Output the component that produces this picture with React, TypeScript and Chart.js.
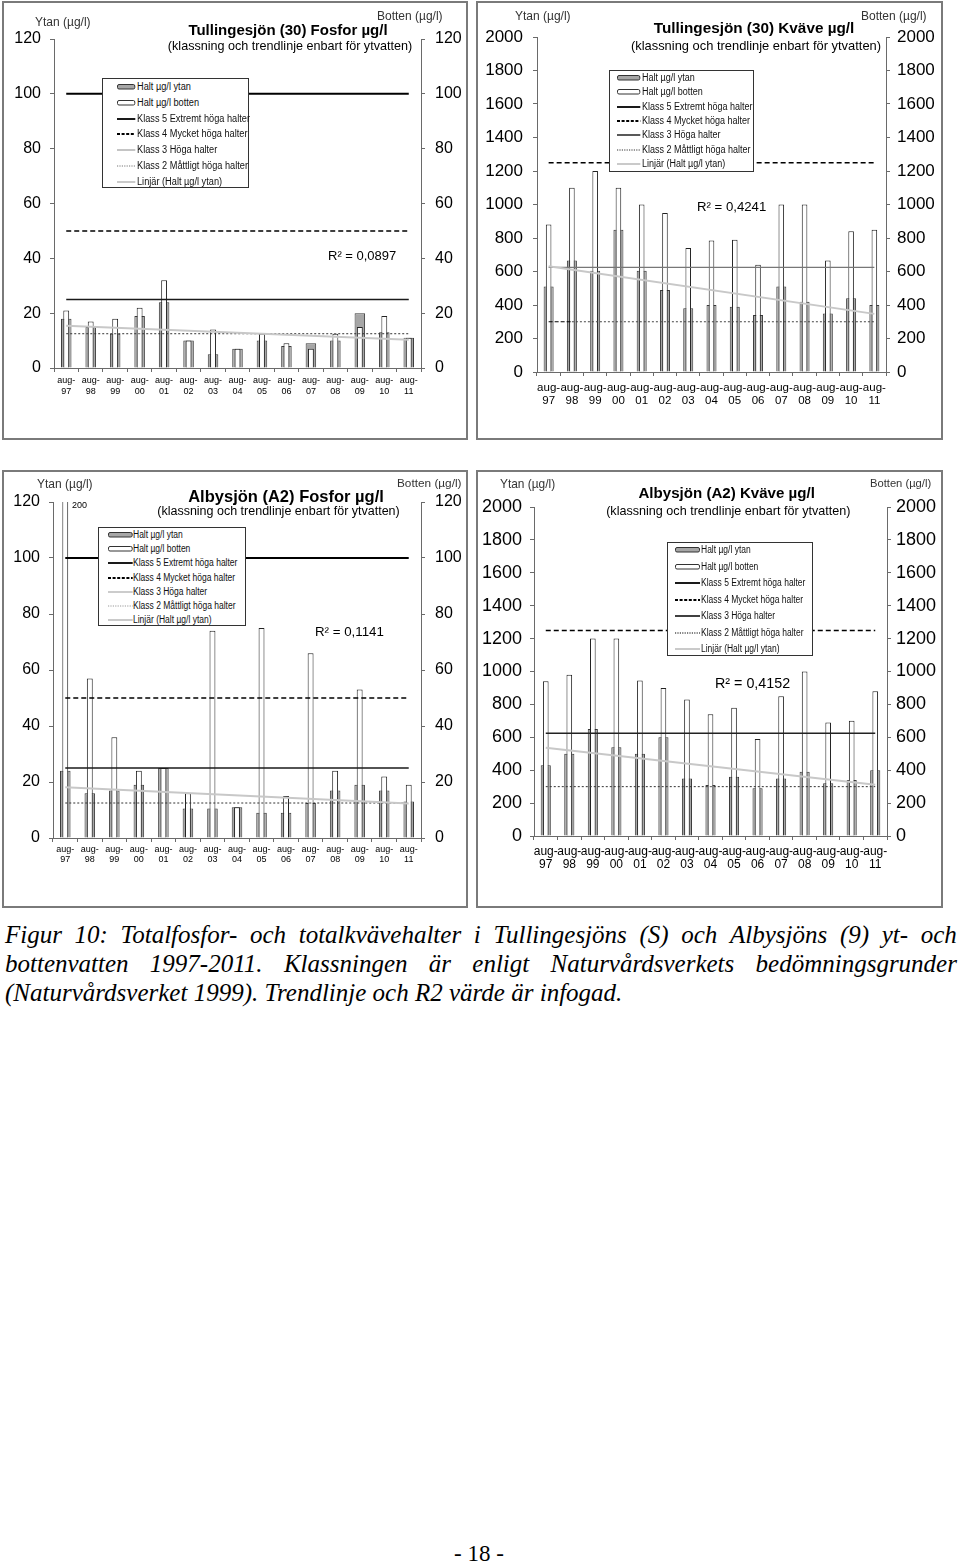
import React, { useEffect, useRef } from 'react';
import { Chart, registerables } from 'chart.js';

Chart.register(...registerables);

const FONT = "'Liberation Sans', Arial, Helvetica, sans-serif";
const SERIF = "'Liberation Serif', 'Times New Roman', serif";
Chart.defaults.font.family = FONT;

// ---------------- data ----------------
const years = ['97', '98', '99', '00', '01', '02', '03', '04', '05', '06', '07', '08', '09', '10', '11'];
const xLabels = years.map((y) => ['aug-', y]);

const tullFosforYtan = [18, 15, 12.5, 19, 24, 10, 5, 7, 10, 8, 9, 10, 20, 13, 11];
const tullFosforBotten = [21, 17, 18, 22, 32, 10, 14, 7, 12.5, 9, 7, 12.5, 15, 19, 11];
const tullFosforTrend = [15.4, null, null, null, null, null, null, null, null, null, null, null, null, null, 10.3];

const tullKvaveYtan = [510, 665, 605, 850, 605, 490, 380, 400, 390, 340, 510, 420, 350, 440, 400];
const tullKvaveBotten = [880, 1100, 1200, 1100, 1000, 950, 740, 785, 790, 640, 1000, 1000, 665, 840, 850];
const tullKvaveTrend = [631, null, null, null, null, null, null, null, null, null, null, null, null, null, 347];

const albyFosforYtan = [24, 16, 17, 19, 25, 10.5, 10.5, 11, 9, 9, 12.5, 17, 19, 17, 13];
const albyFosforBotten = [200, 57, 36, 24, 25, 16, 74, 11, 75, 15, 66, 24, 53, 22, 19];
const albyFosforTrend = [18.1, null, null, null, null, null, null, null, null, null, null, null, null, null, 12.3];

const albyKvaveYtan = [430, 500, 650, 540, 500, 600, 350, 310, 360, 290, 350, 390, 320, 340, 400];
const albyKvaveBotten = [940, 980, 1200, 1200, 945, 900, 830, 740, 780, 590, 850, 1000, 690, 700, 880];
const albyKvaveTrend = [536, null, null, null, null, null, null, null, null, null, null, null, null, null, 312];

// klass 5, 4, 3, 2 thresholds
const fosforKlass = [100, 50, 25, 12.5];
const kvaveKlass = [5000, 1250, 625, 300];

// axis [min, max, step]
const fosforAxis = [0, 120, 20];
const kvaveAxis = [0, 2000, 200];

const legendLabels = [
  'Halt µg/l ytan',
  'Halt µg/l botten',
  'Klass 5 Extremt höga halter',
  'Klass 4 Mycket höga halter',
  'Klass 3 Höga halter',
  'Klass 2 Måttligt höga halter',
  'Linjär (Halt µg/l ytan)',
];

const captionLines = [
  'Figur 10: Totalfosfor- och totalkvävehalter i Tullingesjöns (S) och Albysjöns (9) yt- och',
  'bottenvatten 1997-2011. Klassningen är enligt Naturvårdsverkets bedömningsgrunder',
  '(Naturvårdsverket 1999). Trendlinje och R2 värde är infogad.',
];

// ---------------- chart ----------------
type Spec = {
  canvas: number[]; // page left, top, w, h
  area: number[]; // canvas left, top, right, bottom
  ytan: number[];
  botten: number[];
  trend: (number | null)[];
  klass: number[];
  axis: number[];
  tickFont: number;
  leftPad: number;
  rightPad: number;
  xFont: number;
  xLineHeight: number;
  xPad: number;
  k3Color: string;
  k3Width: number;
  k2Color: string;
  firstSegBlack?: boolean;
};

function ChartCanvas({ spec }: { spec: Spec }) {
  const ref = useRef<HTMLCanvasElement>(null);
  useEffect(() => {
    const cv = ref.current as HTMLCanvasElement;
    const [, , cw, ch] = spec.canvas;
    const [al, at, ar, ab] = spec.area;
    const [mn, mx, st] = spec.axis;
    const constLine = (label: string, value: number, color: string, width: number, dash: number[], extra: any = {}) => ({
      type: 'line',
      label,
      data: years.map(() => value),
      yAxisID: 'y',
      borderColor: color,
      borderWidth: width,
      borderDash: dash,
      pointRadius: 0,
      fill: false,
      tension: 0,
      order: 2,
      ...extra,
    });
    const axisCommon = (pad: number, pos: string, widthFn: (s: any) => void) => ({
      type: 'linear',
      position: pos,
      min: mn,
      max: mx,
      ticks: {
        stepSize: st,
        color: '#000',
        padding: pad,
        font: { size: spec.tickFont, family: FONT },
        callback: (v: any) => String(v),
      },
      grid: { drawOnChartArea: false, drawTicks: true, tickLength: 4, color: '#6a6a6a' },
      border: { display: true, color: '#6a6a6a', width: 1 },
      afterFit: widthFn,
    });
    const k2Extra = spec.firstSegBlack
      ? {
          segment: {
            borderColor: (c: any) => (c.p0DataIndex === 0 ? '#000' : undefined),
            borderDash: (c: any) => (c.p0DataIndex === 0 ? [4, 2] : undefined),
          },
        }
      : {};
    const chart = new Chart(cv, {
      type: 'bar',
      data: {
        labels: xLabels,
        datasets: [
          {
            type: 'bar',
            label: legendLabels[0],
            data: spec.ytan,
            yAxisID: 'y',
            backgroundColor: '#a6a6a6',
            borderColor: '#3a3a3a',
            borderWidth: 1,
            barPercentage: 0.43,
            categoryPercentage: 1,
            grouped: false,
            order: 10,
          },
          {
            type: 'bar',
            label: legendLabels[1],
            data: spec.botten,
            yAxisID: 'y2',
            backgroundColor: '#ffffff',
            borderColor: '#222222',
            borderWidth: 1,
            barPercentage: 0.24,
            categoryPercentage: 1,
            grouped: false,
            order: 9,
          },
          constLine(legendLabels[2], spec.klass[0], '#000', 2, []),
          constLine(legendLabels[3], spec.klass[1], '#000', 1.5, [5, 3]),
          constLine(legendLabels[4], spec.klass[2], spec.k3Color, spec.k3Width, []),
          constLine(legendLabels[5], spec.klass[3], spec.k2Color, 1, [2, 2], k2Extra),
          {
            type: 'line',
            label: legendLabels[6],
            data: spec.trend,
            yAxisID: 'y',
            spanGaps: true,
            borderColor: '#c8c8c8',
            borderWidth: 2,
            pointRadius: 0,
            fill: false,
            order: 1,
          },
        ] as any,
      },
      options: {
        responsive: false,
        maintainAspectRatio: false,
        animation: false,
        devicePixelRatio: 1,
        layout: { padding: { top: at, left: 0, right: 0, bottom: 0 } },
        plugins: {
          legend: { display: false },
          tooltip: { enabled: false },
          title: { display: false },
        },
        scales: {
          x: {
            type: 'category',
            offset: true,
            grid: { offset: true, drawOnChartArea: false, drawTicks: true, tickLength: 4, color: '#6a6a6a' },
            border: { display: true, color: '#6a6a6a', width: 1 },
            ticks: {
              autoSkip: false,
              maxRotation: 0,
              minRotation: 0,
              color: '#000',
              padding: spec.xPad,
              font: { size: spec.xFont, lineHeight: spec.xLineHeight, family: FONT },
            },
            afterFit: (s: any) => {
              s.height = ch - ab;
            },
          },
          y: axisCommon(spec.leftPad, 'left', (s: any) => {
            s.width = al;
          }),
          y2: axisCommon(spec.rightPad, 'right', (s: any) => {
            s.width = cw - ar;
          }),
        } as any,
      },
    } as any);
    return () => chart.destroy();
  }, [spec]);
  const [cl, ct, cw, ch] = spec.canvas;
  return (
    <canvas
      ref={ref}
      width={cw}
      height={ch}
      style={{ position: 'absolute', left: cl, top: ct, width: cw, height: ch }}
    />
  );
}

// ---------------- overlays ----------------
function Txt(props: {
  x: number;
  y: number;
  size: number;
  text: string;
  bold?: boolean;
  center?: boolean;
  color?: string;
}) {
  const { x, y, size, text, bold, center, color } = props;
  const lh = size * 1.2;
  const style: React.CSSProperties = {
    position: 'absolute',
    top: y - lh / 2,
    lineHeight: `${lh}px`,
    fontSize: size,
    fontFamily: FONT,
    fontWeight: bold ? 'bold' : 'normal',
    color: color || '#000',
    whiteSpace: 'nowrap',
  };
  if (center) {
    style.left = x - 300;
    style.width = 600;
    style.textAlign = 'center';
  } else {
    style.left = x;
  }
  return <div style={style}>{text}</div>;
}

type LegendSpec = {
  box: number[]; // left, top, w, h
  row0: number;
  step: number;
  swX: number;
  swW: number;
  textX: number;
  scale: number;
  k3: string;
  k3w: number;
  k2: string;
};

function Swatch({ kind, w, k3, k3w, k2 }: { kind: number; w: number; k3: string; k3w: number; k2: string }) {
  const h = 8;
  let el: React.ReactNode = null;
  if (kind === 0) el = <rect x={0.5} y={1.5} width={w - 1} height={4.5} rx={1.5} fill="#a6a6a6" stroke="#333" strokeWidth={1} />;
  if (kind === 1) el = <rect x={0.5} y={1.5} width={w - 1} height={4.5} rx={1.5} fill="#fff" stroke="#333" strokeWidth={1} />;
  if (kind === 2) el = <line x1={0} x2={w} y1={4} y2={4} stroke="#000" strokeWidth={1.8} />;
  if (kind === 3) el = <line x1={0} x2={w} y1={4} y2={4} stroke="#000" strokeWidth={1.8} strokeDasharray="3 1.6" />;
  if (kind === 4) el = <line x1={0} x2={w} y1={4} y2={4} stroke={k3} strokeWidth={k3w} />;
  if (kind === 5) el = <line x1={0} x2={w} y1={4} y2={4} stroke={k2} strokeWidth={1} strokeDasharray="1.2 1.2" />;
  if (kind === 6) el = <line x1={0} x2={w} y1={4} y2={4} stroke="#c4c4c4" strokeWidth={1.8} />;
  return (
    <svg width={w} height={h} style={{ position: 'absolute', left: 0, top: 0, overflow: 'visible' }}>
      {el}
    </svg>
  );
}

function LegendBox({ spec }: { spec: LegendSpec }) {
  const [l, t, w, h] = spec.box;
  return (
    <div
      style={{
        position: 'absolute',
        left: l,
        top: t,
        width: w,
        height: h,
        boxSizing: 'border-box',
        border: '1px solid #333',
        background: '#fff',
      }}
    >
      {legendLabels.map((lab, i) => {
        const cy = spec.row0 + i * spec.step - 1;
        return (
          <React.Fragment key={i}>
            <div style={{ position: 'absolute', left: spec.swX - 1, top: cy - 4, width: spec.swW, height: 8 }}>
              <Swatch kind={i} w={spec.swW} k3={spec.k3} k3w={spec.k3w} k2={spec.k2} />
            </div>
            <div
              style={{
                position: 'absolute',
                left: spec.textX - 1,
                top: cy - 6,
                lineHeight: '12px',
                fontSize: 10,
                fontFamily: FONT,
                color: '#111',
                whiteSpace: 'nowrap',
                transform: `scaleX(${spec.scale})`,
                transformOrigin: 'left center',
              }}
            >
              {lab}
            </div>
          </React.Fragment>
        );
      })}
    </div>
  );
}

function Panel({ r }: { r: number[] }) {
  return (
    <div
      style={{
        position: 'absolute',
        left: r[0],
        top: r[1],
        width: r[2],
        height: r[3],
        boxSizing: 'border-box',
        border: '2px solid #7a7a7a',
        background: '#fff',
      }}
    />
  );
}

// ---------------- specs ----------------
const spec1: Spec = {
  canvas: [4, 3, 462, 435],
  area: [50, 36, 417, 365],
  ytan: tullFosforYtan,
  botten: tullFosforBotten,
  trend: tullFosforTrend,
  klass: fosforKlass,
  axis: fosforAxis,
  tickFont: 16,
  leftPad: 9,
  rightPad: 10,
  xFont: 9,
  xLineHeight: 1.2,
  xPad: 3,
  k3Color: '#1a1a1a',
  k3Width: 1.5,
  k2Color: '#333',
};
const spec2: Spec = {
  canvas: [478, 3, 463, 435],
  area: [59, 34, 408, 369],
  ytan: tullKvaveYtan,
  botten: tullKvaveBotten,
  trend: tullKvaveTrend,
  klass: kvaveKlass,
  axis: kvaveAxis,
  tickFont: 17,
  leftPad: 10,
  rightPad: 7,
  xFont: 11.5,
  xLineHeight: 1.1,
  xPad: 6,
  k3Color: '#777',
  k3Width: 1.2,
  k2Color: '#444',
  firstSegBlack: true,
};
const spec3: Spec = {
  canvas: [4, 472, 462, 434],
  area: [49, 30, 417, 366],
  ytan: albyFosforYtan,
  botten: albyFosforBotten,
  trend: albyFosforTrend,
  klass: fosforKlass,
  axis: fosforAxis,
  tickFont: 16,
  leftPad: 9,
  rightPad: 10,
  xFont: 9,
  xLineHeight: 1.1,
  xPad: 3,
  k3Color: '#1a1a1a',
  k3Width: 1.5,
  k2Color: '#333',
};
const spec4: Spec = {
  canvas: [478, 472, 463, 434],
  area: [56, 35, 409, 364],
  ytan: albyKvaveYtan,
  botten: albyKvaveBotten,
  trend: albyKvaveTrend,
  klass: kvaveKlass,
  axis: kvaveAxis,
  tickFont: 18,
  leftPad: 8,
  rightPad: 5,
  xFont: 12,
  xLineHeight: 1.1,
  xPad: 5,
  k3Color: '#222',
  k3Width: 1.5,
  k2Color: '#333',
};

const legend1: LegendSpec = { box: [102, 78, 147, 110], row0: 9.3, step: 15.7, swX: 14.7, swW: 18.3, textX: 34.7, scale: 0.92, k3: '#8a8a8a', k3w: 1, k2: '#777' };
const legend2: LegendSpec = { box: [609, 70, 145, 102], row0: 7.7, step: 14.43, swX: 7.7, swW: 23.3, textX: 32.7, scale: 0.9, k3: '#222', k3w: 1.5, k2: '#333' };
const legend3: LegendSpec = { box: [98, 527, 148, 99], row0: 8, step: 14.17, swX: 10, swW: 24.7, textX: 35.3, scale: 0.85, k3: '#999', k3w: 1, k2: '#999' };
const legend4: LegendSpec = { box: [667, 542, 146, 114], row0: 8.3, step: 16.45, swX: 8, swW: 25, textX: 34, scale: 0.85, k3: '#000', k3w: 1.5, k2: '#000' };

const SUB = '(klassning och trendlinje enbart för ytvatten)';

export default function App() {
  return (
    <div
      style={{
        position: 'absolute',
        left: 0,
        top: 0,
        width: 960,
        height: 1564,
        background: '#fff',
        overflow: 'hidden',
      }}
    >
      <Panel r={[2, 1, 466, 439]} />
      <Panel r={[476, 1, 467, 439]} />
      <Panel r={[2, 470, 466, 438]} />
      <Panel r={[476, 470, 467, 438]} />

      <ChartCanvas spec={spec1} />
      <ChartCanvas spec={spec2} />
      <ChartCanvas spec={spec3} />
      <ChartCanvas spec={spec4} />

      {/* chart 1 */}
      <Txt x={35} y={21.7} size={12} text="Ytan (µg/l)" color="#333" />
      <Txt x={377} y={15.7} size={12} text="Botten (µg/l)" color="#333" />
      <Txt x={288} y={30} size={15} bold center text="Tullingesjön (30) Fosfor µg/l" />
      <Txt x={290} y={46.7} size={12.6} center text={SUB} />
      <Txt x={328} y={255.7} size={13} text="R² = 0,0897" />
      <LegendBox spec={legend1} />

      {/* chart 2 */}
      <Txt x={515} y={15.7} size={12} text="Ytan (µg/l)" color="#333" />
      <Txt x={861} y={15.7} size={12} text="Botten (µg/l)" color="#333" />
      <Txt x={754} y={28.3} size={15.3} bold center text="Tullingesjön (30) Kväve µg/l" />
      <Txt x={756} y={45.7} size={12.9} center text={SUB} />
      <Txt x={697} y={207.3} size={13.2} text="R² = 0,4241" />
      <LegendBox spec={legend2} />

      {/* chart 3 */}
      <Txt x={37} y={484} size={12} text="Ytan (µg/l)" color="#333" />
      <Txt x={397} y={483.3} size={11.8} text="Botten (µg/l)" color="#333" />
      <Txt x={286} y={496.7} size={16.5} bold center text="Albysjön (A2) Fosfor µg/l" />
      <Txt x={278.5} y={511.7} size={12.5} center text={SUB} />
      <Txt x={315} y={631.7} size={13.3} text="R² = 0,1141" />
      <Txt x={72} y={505} size={9} text="200" />
      <LegendBox spec={legend3} />

      {/* chart 4 */}
      <Txt x={500} y={484} size={11.9} text="Ytan (µg/l)" color="#333" />
      <Txt x={870} y={483.3} size={11.2} text="Botten (µg/l)" color="#333" />
      <Txt x={726.7} y={492.7} size={15.1} bold center text="Albysjön (A2) Kväve µg/l" />
      <Txt x={728.3} y={511.7} size={12.6} center text={SUB} />
      <Txt x={715} y={683.3} size={14.3} text="R² = 0,4152" />
      <LegendBox spec={legend4} />

      {/* caption */}
      {captionLines.map((line, i) => {
        const words = line.split(' ');
        const justify = i < captionLines.length - 1;
        return (
          <div
            key={i}
            style={{
              position: 'absolute',
              left: 5,
              top: 920 + i * 29,
              width: 952,
              height: 29,
              lineHeight: '29px',
              fontFamily: SERIF,
              fontStyle: 'italic',
              fontSize: 25,
              color: '#000',
              display: 'flex',
              justifyContent: justify ? 'space-between' : 'flex-start',
              whiteSpace: 'nowrap',
              gap: justify ? 0 : '0.25em',
            }}
          >
            {words.map((w, j) => (
              <span key={j}>{w}</span>
            ))}
          </div>
        );
      })}

      {/* page number */}
      <div
        style={{
          position: 'absolute',
          left: 379,
          top: 1542,
          width: 200,
          textAlign: 'center',
          fontFamily: SERIF,
          fontSize: 23,
          lineHeight: '23px',
          color: '#000',
          whiteSpace: 'pre',
        }}
      >
        - 18 -
      </div>
    </div>
  );
}
